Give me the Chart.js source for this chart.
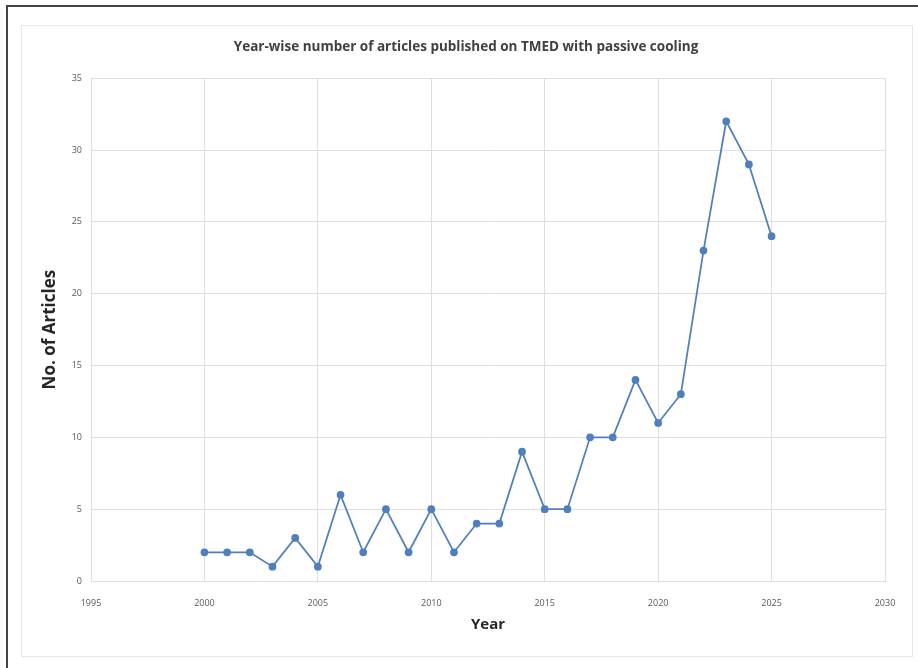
<!DOCTYPE html>
<html>
<head>
<meta charset="utf-8">
<script src="https://cdn.jsdelivr.net/npm/chart.js@4/dist/chart.umd.min.js"></script>
<style>
  body{margin:0;background:#fff;}
  #wrap{position:relative;width:918px;height:668px;overflow:hidden;}
  #frame{position:absolute;left:6px;top:5px;width:940px;height:700px;border-left:2px solid #444;border-top:2px solid #444;}
  #box{position:absolute;left:21px;top:25px;width:890px;height:630px;border:1px solid #e6e6e6;}
  canvas{position:absolute;left:0;top:0;}
</style>
</head>
<body>
<div id="wrap">
  <div id="frame"></div>
  <div id="box"></div>
  <canvas id="chart" width="918" height="668"></canvas>
</div>
<script>
// data
const years    = [2000,2001,2002,2003,2004,2005,2006,2007,2008,2009,2010,2011,2012,2013,2014,2015,2016,2017,2018,2019,2020,2021,2022,2023,2024,2025];
const articles = [2,2,2,1,3,1,6,2,5,2,5,2,4,4,9,5,5,10,10,14,11,13,23,32,29,24];
const xTicks   = [1995,2000,2005,2010,2015,2020,2025,2030];
const yTicks   = [0,5,10,15,20,25,30,35];

const titleText = 'Year-wise number of articles published on TMED with passive cooling';
const blue = '#4f7fbd';
const font = "'Open Sans', Calibri, sans-serif";

const points = years.map((y,i)=>({x:y,y:articles[i]}));

const ctx = document.getElementById('chart').getContext('2d');
new Chart(ctx,{
  type:'line',
  data:{datasets:[{
    label:'Articles',
    data:points,
    borderColor:blue,
    backgroundColor:blue,
    borderWidth:1.75,
    pointRadius:3,
    pointHoverRadius:3,
    tension:0
  }]},
  options:{
    responsive:false,
    animation:false,
    // left padding keeps the title centred on the framed box
    layout:{padding:{left:47,right:33,top:0,bottom:0}},
    plugins:{
      legend:{display:false},
      tooltip:{enabled:false},
      title:{
        display:true,
        text:titleText,
        color:'#404040',
        font:{family:font,size:13.5,weight:'bold'},
        padding:{top:39,bottom:23}
      }
    },
    scales:{
      x:{
        type:'linear',
        min:xTicks[0],
        max:xTicks[xTicks.length-1],
        afterBuildTicks:s=>{s.ticks=xTicks.map(v=>({value:v}));},
        afterFit:s=>{s.height=87;},
        grid:{color:'#dedede',drawTicks:false},
        border:{color:'#dedede'},
        ticks:{color:'#595959',font:{family:font,size:9},padding:17,maxRotation:0,callback:v=>String(v)},
        title:{display:true,text:'Year',color:'#262626',font:{family:font,size:15,weight:'bold'},padding:{top:0,bottom:34}}
      },
      y:{
        min:yTicks[0],
        max:yTicks[yTicks.length-1],
        afterBuildTicks:s=>{s.ticks=yTicks.map(v=>({value:v}));},
        afterFit:s=>{s.width=44;},
        grid:{color:'#dedede',drawTicks:false},
        border:{color:'#dedede'},
        ticks:{color:'#595959',font:{family:font,size:9},padding:9},
        title:{display:true,text:'No. of Articles',color:'#262626',font:{family:font,size:17,weight:'bold'},padding:{top:-7,bottom:0}}
      }
    }
  }
});
</script>
</body>
</html>
